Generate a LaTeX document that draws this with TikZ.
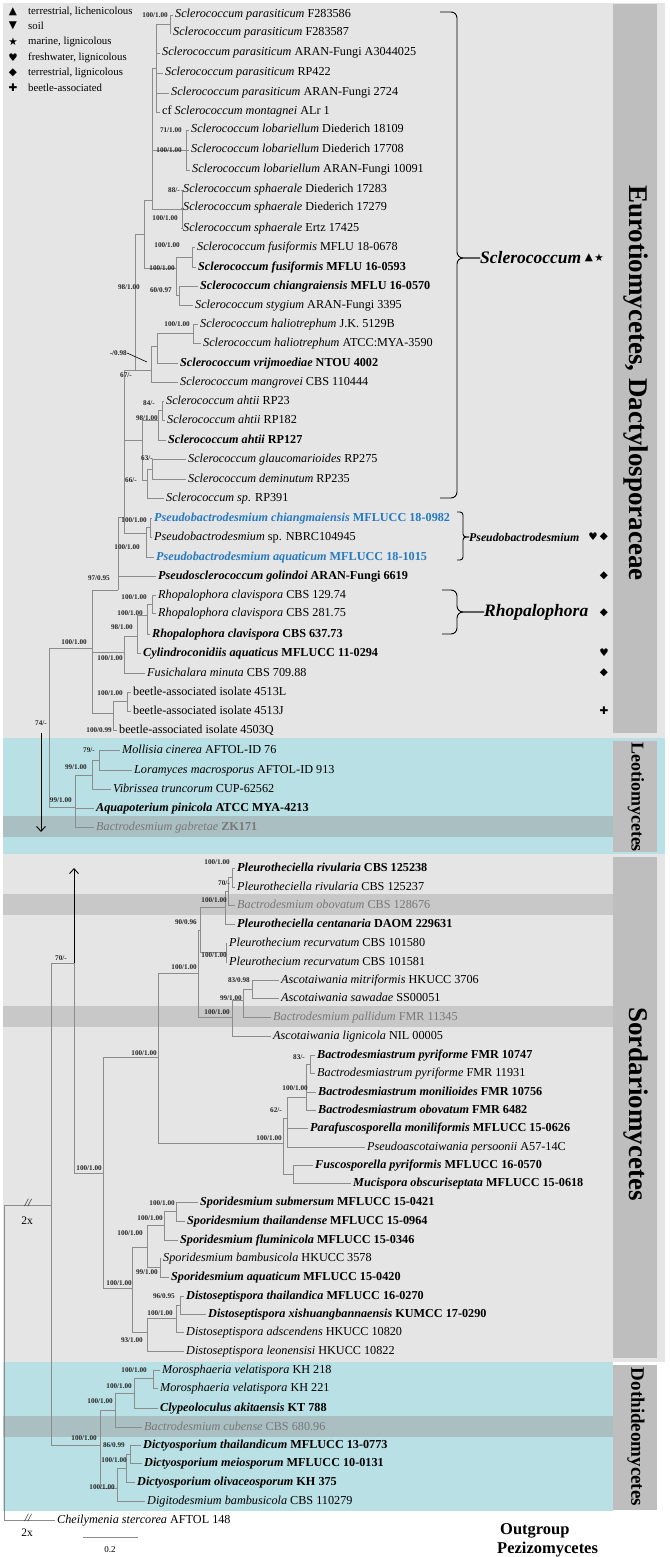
\documentclass[tikz,border=0pt]{standalone}
\usepackage{fontspec}
\setmainfont{Liberation Serif}
\newfontfamily\symfont{DejaVu Sans}
\usetikzlibrary{arrows.meta}
\definecolor{bggrey}{RGB}{229,229,229}
\definecolor{bgcyan}{RGB}{185,224,228}
\definecolor{bandcyan}{RGB}{170,191,194}
\definecolor{bandgrey}{RGB}{200,200,200}
\definecolor{colgrey}{RGB}{190,190,190}
\definecolor{treegrey}{RGB}{140,140,140}
\definecolor{txtgrey}{RGB}{120,120,120}
\definecolor{pbblue}{RGB}{38,122,194}
\begin{document}
\begin{tikzpicture}[x=1pt,y=-1pt,
  br/.style={draw=treegrey,line width=0.75pt},
  tip/.style={anchor=west,inner xsep=2.5pt,inner ysep=0pt,text height=8.5pt,text depth=2.5pt,font=\fontsize{12.2}{14}\selectfont},
  tipb/.style={tip,font=\fontsize{12.2}{14}\selectfont\bfseries},
  tipg/.style={tip,text=txtgrey},
  tipblue/.style={tipb,text=pbblue},
  sup/.style={anchor=east,inner sep=0pt,font=\fontsize{7.2}{8}\selectfont\bfseries,text=black!85},
  leg/.style={anchor=west,inner sep=0pt,font=\fontsize{10.8}{12}\selectfont},
  sym/.style={inner sep=0pt,font=\symfont\fontsize{10.5}{12}\selectfont},
  brc/.style={draw=black,line width=0.9pt,rounded corners=6pt},
  clab/.style={anchor=west,inner sep=0pt,font=\fontsize{17.5}{19}\selectfont\bfseries\itshape},
  coltxt/.style={rotate=-90,inner sep=0pt,font=\fontsize{27}{30}\selectfont\bfseries},
  arr/.style={draw=black,line width=0.9pt,-{Straight Barb[length=5pt,width=9pt]}},
  misc/.style={inner sep=0pt,font=\fontsize{11.5}{13}\selectfont}
]
\useasboundingbox (0,0) rectangle (669,1557);
% ---------- backgrounds ----------
\fill[bggrey] (3,3) rectangle (665,738);
\fill[bgcyan] (3,738) rectangle (665,854);
\fill[bggrey] (3,854) rectangle (665,1362);
\fill[bgcyan] (3,1362) rectangle (613,1511);
\fill[bandcyan] (3,816) rectangle (613,837);
\fill[bandgrey] (3,894) rectangle (613,915);
\fill[bandgrey] (3,1006) rectangle (613,1027);
\fill[bandcyan] (3,1416) rectangle (613,1437);
\fill[colgrey] (613,4) rectangle (657,733);
\fill[colgrey] (613,741) rectangle (657,852);
\fill[colgrey] (613,857) rectangle (657,1358);
\fill[colgrey] (613,1365) rectangle (657,1510);
\node[coltxt] (ceu) at (636,383) {Eurotiomycetes, Dactylosporaceae};
\node[coltxt,font=\fontsize{18}{20}\selectfont\bfseries] (cle) at (636,797) {Leotiomycetes};
\node[coltxt] (cso) at (636,1104) {Sordariomycetes};
\node[coltxt,font=\fontsize{19}{21}\selectfont\bfseries] (cdo) at (636,1437) {Dothideomycetes};
% ---------- legend ----------
\node[sym] (g1) at (13,12) {▲}; \node[leg] (h1) at (28,12) {terrestrial, lichenicolous};
\node[sym] (g2) at (13,26) {▼}; \node[leg] (h2) at (28,26) {soil};
\node[sym] (g3) at (13,42) {★}; \node[leg] (h3) at (28,42) {marine, lignicolous};
\node[sym] (g4) at (13,58) {♥}; \node[leg] (h4) at (28,58) {freshwater, lignicolous};
\node[sym] (g5) at (13,73) {◆}; \node[leg] (h5) at (28,73) {terrestrial, lignicolous};
\node[sym] (g6) at (13,88) {✚}; \node[leg] (h6) at (28,88) {beetle-associated};
% ---------- tips ----------
\node[tip] (t1) at (172.5,15) {\textit{Sclerococcum parasiticum} F283586};
\node[tip] (t2) at (170.5,33) {\textit{Sclerococcum parasiticum} F283587};
\node[tip] (t3) at (159.5,53) {\textit{Sclerococcum parasiticum} ARAN-Fungi A3044025};
\node[tip] (t4) at (162.5,73) {\textit{Sclerococcum parasiticum} RP422};
\node[tip] (t5) at (168.5,93) {\textit{Sclerococcum parasiticum} ARAN-Fungi 2724};
\node[tip] (t6) at (159.5,112) {cf \textit{Sclerococcum montagnei} ALr 1};
\node[tip] (t7) at (188.5,130) {\textit{Sclerococcum lobariellum} Diederich 18109};
\node[tip] (t8) at (188.5,150) {\textit{Sclerococcum lobariellum} Diederich 17708};
\node[tip] (t9) at (189.5,170) {\textit{Sclerococcum lobariellum} ARAN-Fungi 10091};
\node[tip] (t10) at (180.5,190) {\textit{Sclerococcum sphaerale} Diederich 17283};
\node[tip] (t11) at (180.5,208) {\textit{Sclerococcum sphaerale} Diederich 17279};
\node[tip] (t12) at (180.5,228) {\textit{Sclerococcum sphaerale} Ertz 17425};
\node[tip] (t13) at (194.5,247) {\textit{Sclerococcum fusiformis} MFLU 18-0678};
\node[tipb] (t14) at (195.5,267) {\textit{Sclerococcum fusiformis} MFLU 16-0593};
\node[tipb] (t15) at (197.5,286) {\textit{Sclerococcum chiangraiensis} MFLU 16-0570};
\node[tip] (t16) at (192.5,305) {\textit{Sclerococcum stygium} ARAN-Fungi 3395};
\node[tip] (t17) at (197.5,324) {\textit{Sclerococcum haliotrephum} J.K. 5129B};
\node[tip] (t18) at (200.5,343) {\textit{Sclerococcum haliotrephum} ATCC:MYA-3590};
\node[tipb] (t19) at (177.5,363) {\textit{Sclerococcum vrijmoediae} NTOU 4002};
\node[tip] (t20) at (177.5,382) {\textit{Sclerococcum mangrovei} CBS 110444};
\node[tip] (t21) at (163.5,401) {\textit{Sclerococcum ahtii} RP23};
\node[tip] (t22) at (164.5,420) {\textit{Sclerococcum ahtii} RP182};
\node[tipb] (t23) at (165.5,440) {\textit{Sclerococcum ahtii} RP127};
\node[tip] (t24) at (185.5,459) {\textit{Sclerococcum glaucomarioides} RP275};
\node[tip] (t25) at (185.5,479) {\textit{Sclerococcum deminutum} RP235};
\node[tip] (t26) at (163.5,498) {\textit{Sclerococcum sp.} RP391};
\node[tipblue] (t27) at (151.5,518) {\textit{Pseudobactrodesmium chiangmaiensis} MFLUCC 18-0982};
\node[tip] (t28) at (151.5,537) {\textit{Pseudobactrodesmium} sp. NBRC104945};
\node[tipblue] (t29) at (153.5,557) {\textit{Pseudobactrodesmium aquaticum} MFLUCC 18-1015};
\node[tipb] (t30) at (155.5,576) {\textit{Pseudosclerococcum golindoi} ARAN-Fungi 6619};
\node[tip] (t31) at (155.5,595) {\textit{Rhopalophora clavispora} CBS 129.74};
\node[tip] (t32) at (155.5,613) {\textit{Rhopalophora clavispora} CBS 281.75};
\node[tipb] (t33) at (149.5,634) {\textit{Rhopalophora clavispora} CBS 637.73};
\node[tipb] (t34) at (140.5,653) {\textit{Cylindroconidiis aquaticus} MFLUCC 11-0294};
\node[tip] (t35) at (144.5,673) {\textit{Fusichalara minuta} CBS 709.88};
\node[tip] (t36) at (130.5,692) {beetle-associated isolate 4513L};
\node[tip] (t37) at (130.5,711) {beetle-associated isolate 4513J};
\node[tip] (t38) at (116.5,730) {beetle-associated isolate 4503Q};
\node[tip] (t39) at (119.5,750) {\textit{Mollisia cinerea} AFTOL-ID 76};
\node[tip] (t40) at (131.5,770) {\textit{Loramyces macrosporus} AFTOL-ID 913};
\node[tip] (t41) at (110.5,789) {\textit{Vibrissea truncorum} CUP-62562};
\node[tipb] (t42) at (93.5,808) {\textit{Aquapoterium pinicola} ATCC MYA-4213};
\node[tipg] (t43) at (93.5,827) {\textit{Bactrodesmium gabretae} \textbf{ZK171}};
\node[tipb] (t44) at (234.5,868) {\textit{Pleurotheciella rivularia} CBS 125238};
\node[tip] (t45) at (234.5,887) {\textit{Pleurotheciella rivularia} CBS 125237};
\node[tipg] (t46) at (234.5,905) {\textit{Bactrodesmium obovatum} CBS 128676};
\node[tipb] (t47) at (234.5,924) {\textit{Pleurotheciella centanaria} DAOM 229631};
\node[tip] (t48) at (226.5,943) {\textit{Pleurothecium recurvatum} CBS 101580};
\node[tip] (t49) at (226.5,962) {\textit{Pleurothecium recurvatum} CBS 101581};
\node[tip] (t50) at (278.5,980) {\textit{Ascotaiwania mitriformis} HKUCC 3706};
\node[tip] (t51) at (278.5,998) {\textit{Ascotaiwania sawadae} SS00051};
\node[tipg] (t52) at (270.5,1017) {\textit{Bactrodesmium pallidum} FMR 11345};
\node[tip] (t53) at (270.5,1036) {\textit{Ascotaiwania lignicola} NIL 00005};
\node[tipb] (t54) at (314.5,1055) {\textit{Bactrodesmiastrum pyriforme} FMR 10747};
\node[tip] (t55) at (314.5,1073) {\textit{Bactrodesmiastrum pyriforme} FMR 11931};
\node[tipb] (t56) at (315.5,1092) {\textit{Bactrodesmiastrum monilioides} FMR 10756};
\node[tipb] (t57) at (315.5,1110) {\textit{Bactrodesmiastrum obovatum} FMR 6482};
\node[tipb] (t58) at (307.5,1128) {\textit{Parafuscosporella moniliformis} MFLUCC 15-0626};
\node[tip] (t59) at (364.5,1147) {\textit{Pseudoascotaiwania persoonii} A57-14C};
\node[tipb] (t60) at (312.5,1165) {\textit{Fuscosporella pyriformis} MFLUCC 16-0570};
\node[tipb] (t61) at (350.5,1183) {\textit{Mucispora obscuriseptata} MFLUCC 15-0618};
\node[tipb] (t62) at (197.5,1202) {\textit{Sporidesmium submersum} MFLUCC 15-0421};
\node[tipb] (t63) at (184.5,1221) {\textit{Sporidesmium thailandense} MFLUCC 15-0964};
\node[tipb] (t64) at (177.5,1240) {\textit{Sporidesmium fluminicola} MFLUCC 15-0346};
\node[tip] (t65) at (160.5,1258) {\textit{Sporidesmium bambusicola} HKUCC 3578};
\node[tipb] (t66) at (168.5,1277) {\textit{Sporidesmium aquaticum} MFLUCC 15-0420};
\node[tipb] (t67) at (183.5,1296) {\textit{Distoseptispora thailandica} MFLUCC 16-0270};
\node[tipb] (t68) at (205.5,1314) {\textit{Distoseptispora xishuangbannaensis} KUMCC 17-0290};
\node[tip] (t69) at (183.5,1332) {\textit{Distoseptispora adscendens} HKUCC 10820};
\node[tip] (t70) at (183.5,1351) {\textit{Distoseptispora leonensisi} HKUCC 10822};
\node[tip] (t71) at (159.5,1370) {\textit{Morosphaeria velatispora} KH 218};
\node[tip] (t72) at (157.5,1388) {\textit{Morosphaeria velatispora} KH 221};
\node[tipb] (t73) at (157.5,1408) {\textit{Clypeoloculus akitaensis} KT 788};
\node[tipg] (t74) at (141.5,1427) {\textit{Bactrodesmium cubense} CBS 680.96};
\node[tipb] (t75) at (140.5,1445) {\textit{Dictyosporium thailandicum} MFLUCC 13-0773};
\node[tipb] (t76) at (141.5,1463) {\textit{Dictyosporium meiosporum} MFLUCC 10-0131};
\node[tipb] (t77) at (134.5,1482) {\textit{Dictyosporium olivaceosporum} KH 375};
\node[tip] (t78) at (144.5,1501) {\textit{Digitodesmium bambusicola} CBS 110279};
\node[tip] (t79) at (54.5,1520) {\textit{Cheilymenia stercorea} AFTOL 148};
% ---------- internal nodes ----------
\coordinate (A1) at (170,24);  \coordinate (A2) at (156,68);
\coordinate (A3) at (186,150); \coordinate (A4) at (182,209);
\coordinate (A5) at (152,200); \coordinate (A6) at (144,234);
\coordinate (A7) at (176,268); \coordinate (A8) at (192,257);
\coordinate (A9) at (179,295); \coordinate (A10) at (135,370);
\coordinate (A12) at (157,346); \coordinate (A13) at (193,333);
\coordinate (A14) at (151,370); \coordinate (A15) at (124,517);
\coordinate (A16) at (162,410); \coordinate (A17) at (158,420);
\coordinate (A18) at (152,469); \coordinate (A19) at (147,480);
\coordinate (A20) at (142,440); \coordinate (A21) at (118,590);
\coordinate (B1) at (150,527); \coordinate (B2) at (146,533);
\coordinate (R1) at (152,604); \coordinate (R2) at (147,615);
\coordinate (R3) at (137,636); \coordinate (R4) at (124,652);
\coordinate (C1) at (127,701); \coordinate (C2) at (113,713);
\coordinate (A22) at (92,648);
\coordinate (L1) at (99,760); \coordinate (L2) at (92,775); \coordinate (L3) at (75,807);
\coordinate (A23) at (49,700);
\coordinate (P1) at (232,877); \coordinate (P2) at (228,891); \coordinate (P3) at (225,907);
\coordinate (S8) at (226,952); \coordinate (S6) at (200,930);
\coordinate (As1) at (252,989); \coordinate (As2) at (243,1000); \coordinate (As3) at (232,1017);
\coordinate (S4) at (198,973);
\coordinate (SB1) at (310,1064); \coordinate (SB2) at (306,1097); \coordinate (SB3) at (287,1118);
\coordinate (SB4) at (293,1174); \coordinate (S5) at (283,1143);
\coordinate (S2) at (158,1057);
\coordinate (Sp1) at (176,1211); \coordinate (Sp2) at (164,1225); \coordinate (Sp4) at (160,1267);
\coordinate (Sp3) at (147,1247);
\coordinate (D1) at (180,1305); \coordinate (D2) at (176,1318); \coordinate (D3) at (147,1332);
\coordinate (S3) at (132,1288); \coordinate (S1) at (103,1173); \coordinate (S0) at (74,963);
\coordinate (Do1) at (153,1378); \coordinate (Do2) at (134,1393); \coordinate (Do3) at (115,1410);
\coordinate (Di1) at (130,1454); \coordinate (Di2) at (126,1468); \coordinate (Di3) at (117,1488);
\coordinate (Do4) at (100,1445);
\coordinate (RT) at (51,1205); \coordinate (R0) at (4,1205);
% ---------- branches ----------
\draw[br] (A1) |- (t1.west) (A1) |- (t2.west);
\draw[br] (A2) |- (A1) (A2) |- (t3.west) (A2) |- (t4.west) (A2) |- (t5.west) (A2) |- (t6.west);
\draw[br] (A3) |- (t7.west) (A3) |- (t8.west) (A3) |- (t9.west);
\draw[br] (A4) |- (t10.west) (A4) |- (t11.west) (A4) |- (t12.west);
\draw[br] (A5) |- (A2) (A5) |- (A3) (A5) |- (A4);
\draw[br] (A8) |- (t13.west) (A8) |- (t14.west);
\draw[br] (A9) |- (t15.west) (A9) |- (t16.west);
\draw[br] (A7) |- (A8) (A7) |- (A9);
\draw[br] (A6) |- (A5) (A6) |- (A7);
\draw[br] (A13) |- (t17.west) (A13) |- (t18.west);
\draw[br] (A12) |- (A13) (A12) |- (t19.west);
\draw[br] (A14) |- (A12) (A14) |- (t20.west);
\draw[br] (A10) |- (A6) (A10) |- (A14);
\draw[br] (A16) |- (t21.west) (A16) |- (t22.west);
\draw[br] (A17) |- (A16) (A17) |- (t23.west);
\draw[br] (A18) |- (t24.west) (A18) |- (t25.west);
\draw[br] (A19) |- (A18) (A19) |- (t26.west);
\draw[br] (A20) |- (A17) (A20) |- (A19);
\draw[br] (B1) |- (t27.west) (B1) |- (t28.west);
\draw[br] (B2) |- (B1) (B2) |- (t29.west);
\draw[br] (A15) |- (A10) (A15) |- (A20) (A15) |- (B2);
\draw[br] (A21) |- (A15) (A21) |- (t30.west);
\draw[br] (R1) |- (t31.west) (R1) |- (t32.west);
\draw[br] (R2) |- (R1) (R2) |- (t33.west);
\draw[br] (R3) |- (R2) (R3) |- (t34.west);
\draw[br] (R4) |- (R3) (R4) |- (t35.west);
\draw[br] (C1) |- (t36.west) (C1) |- (t37.west);
\draw[br] (C2) |- (C1) (C2) |- (t38.west);
\draw[br] (A22) |- (A21) (A22) |- (R4) (A22) |- (C2);
\draw[br] (L1) |- (t39.west) (L1) |- (t40.west);
\draw[br] (L2) |- (L1) (L2) |- (t41.west);
\draw[br] (L3) |- (L2) (L3) |- (t42.west) (L3) |- (t43.west);
\draw[br] (A23) |- (A22) (A23) |- (L3);
\draw[br] (P1) |- (t44.west) (P1) |- (t45.west);
\draw[br] (P2) |- (P1) (P2) |- (t46.west);
\draw[br] (P3) |- (P2) (P3) |- (t47.west);
\draw[br] (S8) |- (t48.west) (S8) |- (t49.west);
\draw[br] (S6) |- (P3) (S6) |- (S8);
\draw[br] (As1) |- (t50.west) (As1) |- (t51.west);
\draw[br] (As2) |- (As1) (As2) |- (t52.west);
\draw[br] (As3) |- (As2) (As3) |- (t53.west);
\draw[br] (S4) |- (S6) (S4) |- (As3);
\draw[br] (SB1) |- (t54.west) (SB1) |- (t55.west);
\draw[br] (SB2) |- (SB1) (SB2) |- (t56.west) (SB2) |- (t57.west);
\draw[br] (SB3) |- (SB2) (SB3) |- (t58.west) (SB3) |- (t59.west);
\draw[br] (SB4) |- (t60.west) (SB4) |- (t61.west);
\draw[br] (S5) |- (SB3) (S5) |- (SB4);
\draw[br] (S2) |- (S4) (S2) |- (S5);
\draw[br] (Sp1) |- (t62.west) (Sp1) |- (t63.west);
\draw[br] (Sp2) |- (Sp1) (Sp2) |- (t64.west);
\draw[br] (Sp4) |- (t65.west) (Sp4) |- (t66.west);
\draw[br] (Sp3) |- (Sp2) (Sp3) |- (Sp4);
\draw[br] (D1) |- (t67.west) (D1) |- (t68.west);
\draw[br] (D2) |- (D1) (D2) |- (t69.west);
\draw[br] (D3) |- (D2) (D3) |- (t70.west);
\draw[br] (S3) |- (Sp3) (S3) |- (D3);
\draw[br] (S1) |- (S2) (S1) |- (S3);
\draw[br] (S0) |- (S1);
\draw[br] (Do1) |- (t71.west) (Do1) |- (t72.west);
\draw[br] (Do2) |- (Do1) (Do2) |- (t73.west);
\draw[br] (Do3) |- (Do2) (Do3) |- (t74.west);
\draw[br] (Di1) |- (t75.west) (Di1) |- (t76.west);
\draw[br] (Di2) |- (Di1) (Di2) |- (t77.west);
\draw[br] (Di3) |- (Di2) (Di3) |- (t78.west);
\draw[br] (Do4) |- (Do3) (Do4) |- (Di3);
\draw[br] (RT) |- (S0) (RT) |- (Do4);
\draw[br] (R0) -- (RT) (R0) |- (t79.west);
% ---------- arrows ----------
\coordinate (dA) at (41,733); \coordinate (dB) at (41,832);
\coordinate (uT) at (74,868);
\draw[arr] (dA) -- (dB);
\draw[arr] (S0) -- (uT);
% ---------- support values ----------
\node[sup] (s1) at (168,15) {100/1.00};
\node[sup] (s2) at (182,130) {71/1.00};
\node[sup] (s3) at (182,150) {100/1.00};
\node[sup] (s4) at (180,190) {88/-};
\node[sup] (s5) at (178,218) {100/1.00};
\node[sup] (s6) at (180,245) {100/1.00};
\node[sup] (s7) at (175,268) {100/1.00};
\node[sup] (s8) at (140,287) {98/1.00};
\node[sup] (s9) at (172,290) {60/0.97};
\node[sup] (s10) at (190,324) {100/1.00};
\node[sup] (s11) at (127,353) {-/0.98};
\node[sup] (s12) at (132,375) {67/-};
\node[sup] (s13) at (155,403) {84/-};
\node[sup] (s14) at (158,418) {98/1.00};
\node[sup] (s15) at (153,458) {63/-};
\node[sup] (s16) at (137,480) {66/-};
\node[sup] (s17) at (147,520) {100/1.00};
\node[sup] (s18) at (140,547) {100/1.00};
\node[sup] (s19) at (110,578) {97/0.95};
\node[sup] (s20) at (147,597) {100/1.00};
\node[sup] (s21) at (143,613) {100/1.00};
\node[sup] (s22) at (133,627) {98/1.00};
\node[sup] (s23) at (87,642) {100/1.00};
\node[sup] (s24) at (123,658) {100/1.00};
\node[sup] (s25) at (123,693) {100/1.00};
\node[sup] (s26) at (112,730) {100/0.99};
\node[sup] (s27) at (47,723) {74/-};
\node[sup] (s28) at (95,750) {79/-};
\node[sup] (s29) at (87,767) {99/1.00};
\node[sup] (s30) at (72,800) {99/1.00};
\node[sup] (s31) at (230,862) {100/1.00};
\node[sup] (s32) at (230,883) {70/-};
\node[sup] (s33) at (227,900) {100/1.00};
\node[sup] (s34) at (197,922) {90/0.96};
\node[sup] (s35) at (227,955) {100/1.00};
\node[sup] (s36) at (67,958) {70/-};
\node[sup] (s37) at (197,967) {100/1.00};
\node[sup] (s38) at (250,980) {83/0.98};
\node[sup] (s39) at (242,998) {99/1.00};
\node[sup] (s40) at (230,1012) {100/1.00};
\node[sup] (s41) at (157,1053) {100/1.00};
\node[sup] (s42) at (305,1057) {83/-};
\node[sup] (s43) at (308,1088) {100/1.00};
\node[sup] (s44) at (282,1110) {62/-};
\node[sup] (s45) at (282,1138) {100/1.00};
\node[sup] (s46) at (102,1168) {100/1.00};
\node[sup] (s47) at (175,1203) {100/1.00};
\node[sup] (s48) at (163,1218) {100/1.00};
\node[sup] (s49) at (143,1233) {100/1.00};
\node[sup] (s50) at (158,1272) {99/1.00};
\node[sup] (s51) at (132,1283) {100/1.00};
\node[sup] (s52) at (175,1296) {96/0.95};
\node[sup] (s53) at (173,1313) {100/1.00};
\node[sup] (s54) at (143,1340) {93/1.00};
\node[sup] (s55) at (147,1370) {100/1.00};
\node[sup] (s56) at (132,1386) {100/1.00};
\node[sup] (s57) at (113,1401) {100/1.00};
\node[sup] (s58) at (97,1438) {100/1.00};
\node[sup] (s59) at (125,1445) {86/0.99};
\node[sup] (s60) at (127,1460) {100/1.00};
\node[sup] (s61) at (115,1487) {100/1.00};
\coordinate (ldr) at (147,362);
\draw[black,line width=0.6pt] (s11.east) -- (ldr);
% ---------- clade braces ----------
\coordinate (bsT) at (440,12); \coordinate (bsS) at (457,12); \coordinate (bsM) at (457,258);
\coordinate (bsE) at (440,498); \coordinate (bsF) at (457,498);
\node[clab] (lsc) at (480,258) {Sclerococcum};
\draw[brc] (bsT) -- (bsS) -- (bsM) -- (lsc.west);
\draw[brc] (bsE) -- (bsF) -- (bsM) -- (lsc.west);
\node[sym] (ys1) at (589,258) {▲};
\node[sym] (ys2) at (599,258) {★};
\coordinate (bpT) at (457,512); \coordinate (bpS) at (463,512); \coordinate (bpM) at (463,537);
\coordinate (bpE) at (457,560); \coordinate (bpF) at (463,560);
\node[clab,font=\fontsize{11.8}{13}\selectfont\bfseries\itshape] (lpb) at (469,537) {Pseudobactrodesmium};
\draw[brc,rounded corners=3pt] (bpT) -- (bpS) -- (bpM) -- (lpb.west);
\draw[brc,rounded corners=3pt] (bpE) -- (bpF) -- (bpM) -- (lpb.west);
\node[sym] (yp1) at (593,537) {♥};
\node[sym] (yp2) at (604,537) {◆};
\node[sym] (yq1) at (604,576) {◆};
\coordinate (brT) at (442,590); \coordinate (brS) at (457,590); \coordinate (brM) at (457,612);
\coordinate (brE) at (442,634); \coordinate (brF) at (457,634);
\node[clab] (lrh) at (484,612) {Rhopalophora};
\draw[brc] (brT) -- (brS) -- (brM) -- (lrh.west);
\draw[brc] (brE) -- (brF) -- (brM) -- (lrh.west);
\node[sym] (yr1) at (604,613) {◆};
\node[sym] (yc1) at (604,653) {♥};
\node[sym] (yf1) at (604,673) {◆};
\node[sym] (yb1) at (604,711) {✚};
% ---------- misc ----------
\node[misc,font=\fontsize{11}{12}\selectfont\itshape] (sl1) at (28,1203) {//};
\node[misc] (tx1) at (27,1221) {2x};
\node[misc,font=\fontsize{11}{12}\selectfont\itshape] (sl2) at (28,1518) {//};
\node[misc] (tx2) at (27,1533) {2x};
\coordinate (sb1) at (83,1537); \coordinate (sb2) at (138,1537);
\draw[br] (sb1) -- (sb2);
\node[misc,font=\fontsize{9}{10}\selectfont] (sbl) at (110,1550) {0.2};
\node[anchor=west,inner sep=0pt,font=\fontsize{16.5}{18}\selectfont\bfseries] (og1) at (500,1531) {Outgroup};
\node[anchor=west,inner sep=0pt,font=\fontsize{16.5}{18}\selectfont\bfseries] (og2) at (497,1550) {Pezizomycetes};
\end{tikzpicture}
\end{document}
